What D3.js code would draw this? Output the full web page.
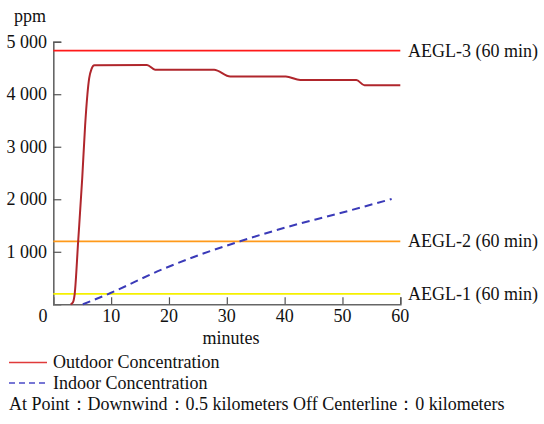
<!DOCTYPE html>
<html>
<head>
<meta charset="utf-8">
<script src="https://d3js.org/d3.v7.min.js"></script>
<style>
  body { margin: 0; background: #fff; }
  text { font-family: "Liberation Serif", "Times New Roman", serif; fill: #111; }
</style>
</head>
<body>
<div id="chart"></div>
<script>
// data
var outdoorMin = [3.0, 3.4, 3.7, 4.3, 5.0, 5.5, 5.9, 6.2, 6.6, 7.1, 16.2, 17.6, 27.8, 30.6, 40.2, 42.7, 52.4, 53.8, 60];
var outdoorPpm = [0, 40, 200, 1200, 2400, 3400, 4000, 4300, 4480, 4550, 4556, 4467, 4467, 4337, 4337, 4271, 4271, 4170, 4170];
var indoorMin = [5.1, 9.8, 18.5, 25, 32.3, 42.7, 47.3, 58.5];
var indoorPpm = [0, 210, 650, 930, 1200, 1540, 1670, 2005];
var aeglNames = ["AEGL-3 (60 min)", "AEGL-2 (60 min)", "AEGL-1 (60 min)"];
var aeglValues = [4830, 1200, 200];
var aeglColors = ["#ff1a1a", "#ff9a1a", "#f5f000"];
var xTicks = [10, 20, 30, 40, 50, 60];
var yTicks = [1000, 2000, 3000, 4000, 5000];
var yTickLabels = ["1 000", "2 000", "3 000", "4 000", "5 000"];

var W = 544, H = 424, fs = 18;
var svg = d3.select("#chart").append("svg").attr("width", W).attr("height", H);

var x = d3.scaleLinear().domain([0, 60]).range([53.3, 400.3]);
var y = d3.scaleLinear().domain([0, 5000]).range([304.3, 41.7]);

// axes, ticks pointing inward
var yAxis = svg.append("g").attr("transform", "translate(" + x(0) + ",0)")
  .call(d3.axisRight(y).tickValues(yTicks).tickSize(8).tickFormat(""));
var xAxis = svg.append("g").attr("transform", "translate(0," + y(0) + ")")
  .call(d3.axisTop(x).tickValues(xTicks).tickSize(7).tickFormat(""));
[yAxis, xAxis].forEach(function (a) {
  a.select(".domain").attr("stroke", "#666").attr("stroke-width", 1.6);
  a.selectAll(".tick line").attr("stroke", "#555").attr("stroke-width", 1.2);
});

svg.selectAll(".ylab").data(yTicks).enter().append("text")
  .attr("x", 47).attr("y", function (d) { return y(d); })
  .attr("dy", "0.33em").attr("text-anchor", "end").attr("font-size", fs)
  .text(function (d, i) { return yTickLabels[i]; });
svg.selectAll(".xlab").data(xTicks).enter().append("text")
  .attr("x", function (d) { return x(d); }).attr("y", 322)
  .attr("text-anchor", "middle").attr("font-size", fs)
  .text(function (d) { return d; });
svg.append("text").attr("x", 43).attr("y", 322).attr("text-anchor", "middle")
  .attr("font-size", fs).text("0");
svg.append("text").attr("x", 30).attr("y", 22).attr("text-anchor", "middle")
  .attr("font-size", fs).text("ppm");
svg.append("text").attr("x", 231).attr("y", 344).attr("text-anchor", "middle")
  .attr("font-size", fs).text("minutes");

// AEGL levels
aeglValues.forEach(function (v, i) {
  svg.append("line").attr("x1", x(0)).attr("x2", x(60))
    .attr("y1", y(v)).attr("y2", y(v))
    .attr("stroke", aeglColors[i]).attr("stroke-width", 1.8);
  svg.append("text").attr("x", 408).attr("y", y(v)).attr("dy", "0.33em")
    .attr("font-size", fs).text(aeglNames[i]);
});

var line = d3.line().curve(d3.curveMonotoneX)
  .x(function (d) { return x(d[0]); }).y(function (d) { return y(d[1]); });

svg.append("path").datum(d3.zip(indoorMin, indoorPpm))
  .attr("d", line).attr("fill", "none")
  .attr("stroke", "#3a3ab8").attr("stroke-width", 2).attr("stroke-dasharray", "8,5");

svg.append("path").datum(d3.zip(outdoorMin, outdoorPpm))
  .attr("d", line).attr("fill", "none")
  .attr("stroke", "#b0262c").attr("stroke-width", 2);

// legend
svg.append("line").attr("x1", 9).attr("x2", 47).attr("y1", 362.5).attr("y2", 362.5)
  .attr("stroke", "#e03a3a").attr("stroke-width", 1.5);
svg.append("text").attr("x", 53).attr("y", 362.5).attr("dy", "0.33em")
  .attr("font-size", fs).text("Outdoor Concentration");
svg.append("line").attr("x1", 9).attr("x2", 47).attr("y1", 383).attr("y2", 383)
  .attr("stroke", "#4a4ac8").attr("stroke-width", 1.5).attr("stroke-dasharray", "6,4");
svg.append("text").attr("x", 53).attr("y", 383).attr("dy", "0.33em")
  .attr("font-size", fs).text("Indoor Concentration");
svg.append("text").attr("x", 9).attr("y", 404).attr("dy", "0.33em")
  .attr("font-size", fs).text("At Point：Downwind：0.5 kilometers Off Centerline：0 kilometers");
</script>
</body>
</html>
